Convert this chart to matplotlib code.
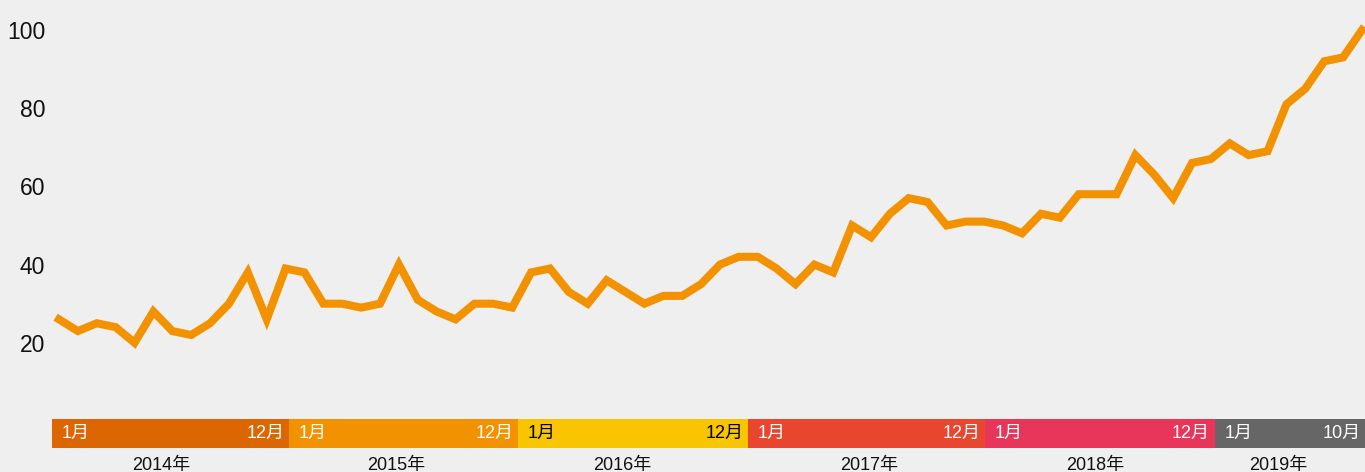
import matplotlib
matplotlib.use("Agg")
import matplotlib.pyplot as plt

plt.rcParams["font.family"] = ["Liberation Sans", "Noto Sans CJK JP", "DejaVu Sans"]

# monthly index values, Jan 2014 - Oct 2019
values = [
    26, 23, 25, 24, 20, 28, 23, 22, 25, 30, 38, 26,   # 2014
    39, 38, 30, 30, 29, 30, 40, 31, 28, 26, 30, 30,   # 2015
    29, 38, 39, 33, 30, 36, 33, 30, 32, 32, 35, 40,   # 2016
    42, 42, 39, 35, 40, 38, 50, 47, 53, 57, 56, 50,   # 2017
    51, 51, 50, 48, 53, 52, 58, 58, 58, 68, 63, 57,   # 2018
    66, 67, 71, 68, 69, 81, 85, 92, 93, 100,          # 2019
]
years = ["2014年", "2015年", "2016年", "2017年", "2018年", "2019年"]
first_month = ["1月"] * 6
last_month = ["12月", "12月", "12月", "12月", "12月", "10月"]
yticks = [20, 40, 60, 80, 100]

band_colors = ["#dc6601", "#f39200", "#f9c400", "#e9462f", "#e8365a", "#666666"]
band_text = ["white", "white", "black", "white", "white", "white"]
# band edges and year label centres in month-index units (layout)
band_edges = [-0.37, 12.18, 24.31, 36.5, 49.05, 61.2, 69.16]
year_pos = [5.4, 17.85, 29.85, 42.9, 54.85, 64.55]

bg = "#efefef"
W, H = 1365, 472
fig = plt.figure(figsize=(W / 100, H / 100), dpi=100, facecolor=bg)

ax = fig.add_axes([52 / W, (H - 421) / H, (W - 52) / W, 391 / H])
ax.set_facecolor(bg)
ax.plot(range(len(values)), values, color="#f39200", lw=5.8,
        solid_joinstyle="miter", clip_on=False)
ax.set_xlim(band_edges[0], band_edges[-1])
ax.set_ylim(0, 100)
ax.set_yticks(yticks)
ax.set_yticklabels([str(v) for v in yticks], fontsize=16.5, color="#111111")
ax.tick_params(axis="y", length=0, pad=5)
ax.set_xticks([])
for s in ax.spines.values():
    s.set_visible(False)

# year bands
bx = fig.add_axes([52 / W, (H - 448) / H, (W - 52) / W, 29 / H], sharex=ax)
bx.set_facecolor(bg)
bx.set_ylim(0, 1)
for i in range(len(years)):
    x0, x1 = band_edges[i], band_edges[i + 1]
    bx.barh(0.5, x1 - x0, left=x0, height=1, color=band_colors[i])
    bx.text(x0 + 0.5, 0.5, first_month[i], color=band_text[i], fontsize=13,
            ha="left", va="center")
    bx.text(x1 - 0.25, 0.5, last_month[i], color=band_text[i], fontsize=13,
            ha="right", va="center")
    bx.text(year_pos[i], -0.62, years[i], color="#111111", fontsize=13,
            ha="center", va="center", clip_on=False)
bx.set_xlim(band_edges[0], band_edges[-1])
bx.axis("off")

fig.savefig("out.png", dpi=100, facecolor=bg)
